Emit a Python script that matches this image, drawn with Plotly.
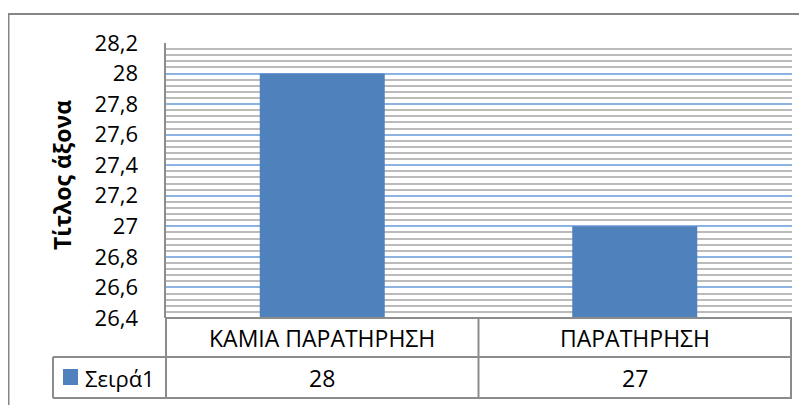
import plotly.graph_objects as go

categories = ["ΚΑΜΙΑ ΠΑΡΑΤΗΡΗΣΗ", "ΠΑΡΑΤΗΡΗΣΗ"]
values = [28, 27]
series_name = "Σειρά1"
axis_title = "Τίτλος άξονα"
value_labels = ["28", "27"]

FONT = "Open Sans"
BAR = "#4F81BD"
LINE = "#8C8C8C"

OFF = 8  # page body margin
W, H = 807 - OFF, 405 - OFF
L, R, T, B = 165, 792, 43, 318  # reference pixel positions of plot area
pw, ph = R - L, B - T

def px(x):
    return (x - L) / pw

def py(y):
    return (B - y) / ph

fig = go.Figure()
fig.add_trace(go.Bar(x=categories, y=values, marker=dict(color=BAR, line=dict(width=0)),
                     name=series_name, showlegend=False))

shapes = []
# outer chart border
shapes.append(dict(type="rect", xref="paper", yref="paper", x0=px(8.5), x1=px(830), y0=py(14), y1=py(430),
                   line=dict(color="#868686", width=2), fillcolor="rgba(0,0,0,0)", layer="below"))
# y axis line
shapes.append(dict(type="line", xref="paper", yref="paper", x0=0, x1=0, y0=0, y1=1,
                   line=dict(color=LINE, width=2)))
# table horizontal lines
for yy, x0 in [(318, 165), (357, 53), (398, 53)]:
    shapes.append(dict(type="line", xref="paper", yref="paper", x0=px(x0), x1=1, y0=py(yy), y1=py(yy),
                       line=dict(color=LINE, width=2)))
# table vertical lines (category boundaries from axis scale)
for xv in [-0.5, 0.5, 1.5]:
    shapes.append(dict(type="line", xref="x", yref="paper", x0=xv, x1=xv, y0=py(318), y1=py(398),
                       line=dict(color=LINE, width=2)))
shapes.append(dict(type="line", xref="paper", yref="paper", x0=px(53), x1=px(53), y0=py(357), y1=py(398),
                   line=dict(color=LINE, width=2)))
# legend key
shapes.append(dict(type="rect", xref="paper", yref="paper", x0=px(63), x1=px(78), y0=py(385), y1=py(369),
                   fillcolor=BAR, line=dict(width=0)))

annotations = []
for c, v in zip(categories, value_labels):
    annotations.append(dict(x=c, xref="x", y=py(338), yref="paper", text=c, showarrow=False,
                            font=dict(family=FONT, size=23, color="#000"), xanchor="center", yanchor="middle"))
    annotations.append(dict(x=c, xref="x", y=py(378), yref="paper", text=v, showarrow=False,
                            font=dict(family=FONT, size=23, color="#000"), xanchor="center", yanchor="middle"))
annotations.append(dict(x=px(83), xref="paper", y=py(378), yref="paper", text=series_name, showarrow=False,
                        font=dict(family=FONT, size=22, color="#000"), xanchor="left", yanchor="middle"))
annotations.append(dict(x=px(62), xref="paper", y=py(175), yref="paper", text="<b>" + axis_title + "</b>",
                        showarrow=False, textangle=-90,
                        font=dict(family=FONT, size=23, color="#000"), xanchor="center", yanchor="middle"))

fig.update_layout(
    width=W, height=H,
    margin=dict(l=L - OFF, r=W - (R - OFF), t=T - OFF, b=H - (B - OFF), pad=0),
    paper_bgcolor="white", plot_bgcolor="white",
    separators=",.",
    bargap=0.6,
    font=dict(family=FONT, size=22, color="#000"),
    xaxis=dict(showticklabels=False, showgrid=False, zeroline=False, showline=False, ticks=""),
    yaxis=dict(range=[26.4, 28.2], dtick=0.2, tick0=26.4, showgrid=True, gridcolor="#8DB3E2", gridwidth=2,
               zeroline=False, showline=False, ticks="", ticklabelstandoff=26,
               tickfont=dict(family=FONT, size=22, color="#000"),
               minor=dict(dtick=0.04, tick0=26.4, showgrid=True, gridcolor="#BBBBBB", gridwidth=2)),
    shapes=shapes,
    annotations=annotations,
)

fig.write_html("out.html")
